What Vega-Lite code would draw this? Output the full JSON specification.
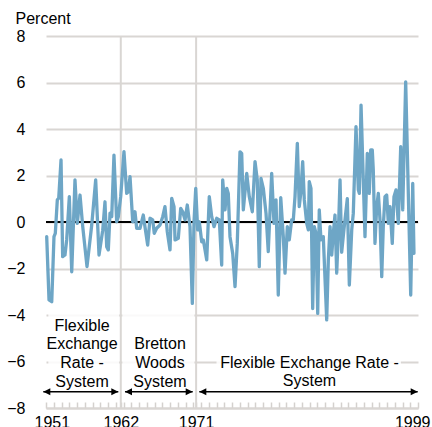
{
  "$schema": "https://vega.github.io/schema/vega-lite/v6.json",
  "width": 372,
  "height": 372,
  "autosize": {"type": "none"},
  "padding": {"left": 46, "top": 36, "right": 14, "bottom": 19},
  "background": "white",
  "config": {"view": {"stroke": null}, "font": "Liberation Sans"},
  "datasets": {
    "series": [
      {"x":1951.09,"y":-0.63},{"x":1951.39,"y":-3.35},{"x":1951.74,"y":-3.43},{"x":1952.03,"y":-0.63},{"x":1952.20,"y":-0.49},{"x":1952.46,"y":0.95},{"x":1952.64,"y":1.02},{"x":1952.94,"y":2.67},{"x":1953.15,"y":-1.49},{"x":1953.45,"y":-1.42},{"x":1953.67,"y":-0.77},{"x":1954.01,"y":1.09},{"x":1954.32,"y":-2.14},{"x":1954.74,"y":1.81},{"x":1955.04,"y":-0.06},{"x":1955.39,"y":1.16},{"x":1955.74,"y":-0.20},{"x":1956.29,"y":-1.92},{"x":1956.90,"y":-0.13},{"x":1957.41,"y":1.81},{"x":1957.84,"y":-1.42},{"x":1958.32,"y":-0.35},{"x":1958.61,"y":0.87},{"x":1958.83,"y":-1.06},{"x":1959.04,"y":-1.20},{"x":1959.26,"y":0.38},{"x":1959.48,"y":0.23},{"x":1959.77,"y":2.88},{"x":1960.12,"y":0.01},{"x":1960.33,"y":0.23},{"x":1960.64,"y":1.09},{"x":1961.06,"y":3.03},{"x":1961.41,"y":1.23},{"x":1961.62,"y":1.30},{"x":1961.84,"y":1.95},{"x":1962.19,"y":0.01},{"x":1962.48,"y":0.44},{"x":1962.70,"y":-0.27},{"x":1963.13,"y":-0.27},{"x":1963.55,"y":0.30},{"x":1963.77,"y":-0.20},{"x":1964.12,"y":-0.99},{"x":1964.42,"y":0.16},{"x":1964.77,"y":0.09},{"x":1964.97,"y":-0.49},{"x":1965.28,"y":-0.27},{"x":1965.71,"y":-0.13},{"x":1966.06,"y":0.23},{"x":1966.35,"y":0.66},{"x":1966.65,"y":-0.42},{"x":1967.00,"y":-1.20},{"x":1967.22,"y":1.02},{"x":1967.52,"y":0.66},{"x":1967.65,"y":-0.77},{"x":1968.07,"y":-0.70},{"x":1968.38,"y":0.59},{"x":1968.64,"y":0.44},{"x":1968.94,"y":0.09},{"x":1969.23,"y":0.73},{"x":1969.58,"y":-0.20},{"x":1969.88,"y":-3.50},{"x":1970.10,"y":0.01},{"x":1970.32,"y":1.45},{"x":1970.57,"y":-0.34},{"x":1970.78,"y":0.01},{"x":1971.09,"y":-0.85},{"x":1971.30,"y":-0.77},{"x":1971.74,"y":-1.63},{"x":1972.07,"y":1.09},{"x":1972.38,"y":0.23},{"x":1972.68,"y":-0.20},{"x":1973.03,"y":0.16},{"x":1973.36,"y":0.09},{"x":1973.67,"y":-1.85},{"x":1973.80,"y":1.81},{"x":1974.10,"y":0.52},{"x":1974.32,"y":1.45},{"x":1974.52,"y":1.23},{"x":1974.74,"y":-0.63},{"x":1975.09,"y":-1.35},{"x":1975.39,"y":-2.78},{"x":1975.68,"y":-0.92},{"x":1976.03,"y":3.02},{"x":1976.25,"y":2.95},{"x":1976.46,"y":0.52},{"x":1976.90,"y":2.09},{"x":1977.23,"y":1.09},{"x":1977.62,"y":0.44},{"x":1977.97,"y":2.60},{"x":1978.26,"y":1.81},{"x":1978.52,"y":-1.92},{"x":1978.74,"y":1.88},{"x":1979.04,"y":1.45},{"x":1979.39,"y":0.37},{"x":1979.68,"y":-1.27},{"x":1980.12,"y":2.09},{"x":1980.42,"y":-0.06},{"x":1980.68,"y":0.95},{"x":1980.97,"y":-3.14},{"x":1981.29,"y":1.05},{"x":1981.62,"y":-0.63},{"x":1981.84,"y":-2.20},{"x":1982.14,"y":-0.20},{"x":1982.39,"y":-0.77},{"x":1982.70,"y":0.09},{"x":1982.91,"y":0.09},{"x":1983.13,"y":1.09},{"x":1983.43,"y":3.38},{"x":1983.68,"y":0.66},{"x":1983.87,"y":1.23},{"x":1984.12,"y":2.60},{"x":1984.33,"y":0.95},{"x":1984.64,"y":-0.06},{"x":1984.85,"y":-0.34},{"x":1984.97,"y":1.74},{"x":1985.19,"y":1.45},{"x":1985.41,"y":-3.72},{"x":1985.62,"y":-0.20},{"x":1985.84,"y":-0.49},{"x":1986.06,"y":-3.93},{"x":1986.26,"y":0.52},{"x":1986.48,"y":-0.77},{"x":1986.78,"y":-0.63},{"x":1987.22,"y":-4.21},{"x":1987.43,"y":-1.63},{"x":1987.65,"y":-0.20},{"x":1987.87,"y":-1.42},{"x":1988.07,"y":-0.49},{"x":1988.29,"y":0.30},{"x":1988.51,"y":-2.20},{"x":1988.72,"y":-0.49},{"x":1988.94,"y":1.81},{"x":1989.15,"y":-1.30},{"x":1989.45,"y":-0.30},{"x":1989.88,"y":1.00},{"x":1990.14,"y":-2.71},{"x":1990.45,"y":-0.34},{"x":1990.65,"y":0.37},{"x":1991.00,"y":4.10},{"x":1991.30,"y":1.38},{"x":1991.43,"y":1.23},{"x":1991.65,"y":5.03},{"x":1991.94,"y":1.81},{"x":1992.16,"y":-0.63},{"x":1992.46,"y":2.95},{"x":1992.72,"y":1.23},{"x":1992.90,"y":3.10},{"x":1993.10,"y":3.10},{"x":1993.23,"y":2.24},{"x":1993.45,"y":-0.92},{"x":1993.67,"y":0.66},{"x":1993.88,"y":1.23},{"x":1994.10,"y":0.08},{"x":1994.32,"y":-2.35},{"x":1994.52,"y":-0.20},{"x":1994.74,"y":1.09},{"x":1994.96,"y":1.16},{"x":1995.17,"y":-0.06},{"x":1995.39,"y":0.66},{"x":1995.68,"y":-0.92},{"x":1995.90,"y":1.09},{"x":1996.16,"y":1.38},{"x":1996.46,"y":-0.06},{"x":1996.77,"y":3.24},{"x":1997.03,"y":0.52},{"x":1997.41,"y":6.03},{"x":1998.06,"y":-3.14},{"x":1998.32,"y":1.66},{"x":1998.48,"y":-1.35}
    ],
    "boxes": [
      {"x": 1951.3, "x2": 1960.45, "y": -3.85, "y2": -7.05},
      {"x": 1960.85, "x2": 1970.15, "y": -3.85, "y2": -7.05},
      {"x": 1973.0, "x2": 1996.8, "y": -5.45, "y2": -7.05}
    ],
    "eras": [{"x": 1960.65, "y": 8, "y2": -8}, {"x": 1970.37, "y": 8, "y2": -8}],
    "zero": [{"x": 1951, "x2": 1999, "y": 0}],
    "notes": [
      {"x": 1955.65, "y": -4.69, "label": "Flexible"},
      {"x": 1955.65, "y": -5.48, "label": "Exchange"},
      {"x": 1955.65, "y": -6.29, "label": "Rate -"},
      {"x": 1955.65, "y": -7.08, "label": "System"},
      {"x": 1965.71, "y": -5.48, "label": "Bretton"},
      {"x": 1965.71, "y": -6.29, "label": "Woods"},
      {"x": 1965.71, "y": -7.08, "label": "System"},
      {"x": 1985.0, "y": -6.29, "label": "Flexible Exchange Rate -"},
      {"x": 1985.0, "y": -7.05, "label": "System"}
    ],
    "arrows": [
      {"x": 1950.65, "x2": 1960.33, "y": -7.3},
      {"x": 1961.19, "x2": 1969.93, "y": -7.3},
      {"x": 1970.78, "x2": 1998.96, "y": -7.3}
    ],
    "heads": [
      {"x": 1950.65, "y": -7.3, "dir": "left"},
      {"x": 1960.33, "y": -7.3, "dir": "right"},
      {"x": 1961.19, "y": -7.3, "dir": "left"},
      {"x": 1969.93, "y": -7.3, "dir": "right"},
      {"x": 1970.78, "y": -7.3, "dir": "left"},
      {"x": 1998.96, "y": -7.3, "dir": "right"}
    ]
  },
  "encoding": {
    "x": {
      "field": "x", "type": "quantitative",
      "scale": {"domain": [1951, 1999], "nice": false, "zero": false},
      "axis": {
        "title": null,
        "grid": false,
        "values": [1951,1952,1953,1954,1955,1956,1957,1958,1959,1960,1960.65,1961,1962,1963,1964,1965,1966,1967,1968,1969,1970,1970.37,1971,1972,1973,1974,1975,1976,1977,1978,1979,1980,1981,1982,1983,1984,1985,1986,1987,1988,1989,1990,1991,1992,1993,1994,1995,1996,1997,1998,1999],
        "labelExpr": "datum.value == 1951 ? '1951' : abs(datum.value - 1960.65) < 0.01 ? '1962' : abs(datum.value - 1970.37) < 0.01 ? '1971' : datum.value == 1999 ? '1999' : ''",
        "labelOverlap": false,
        "labelBound": false,
        "labelFlush": true,
        "labelFlushOffset": 12,
        "labelFontSize": 16,
        "labelColor": "black",
        "labelFont": "Liberation Sans",
        "labelPadding": 12.5,
        "domain": true,
        "domainColor": "#d9d6d3",
        "domainWidth": 2,
        "ticks": true,
        "tickSize": -6,
        "tickColor": "#d4d1ce",
        "tickWidth": 1.5
      }
    },
    "y": {
      "field": "y", "type": "quantitative",
      "scale": {"domain": [-8, 8], "nice": false, "zero": false},
      "axis": {
        "title": "Percent",
        "titleAngle": 0,
        "titleAlign": "left",
        "titleBaseline": "alphabetic",
        "titleX": -31,
        "titleY": -12.5,
        "titleFontSize": 16,
        "titleFontWeight": "normal",
        "titleColor": "black",
        "titleFont": "Liberation Sans",
        "values": [-8, -6, -4, -2, 0, 2, 4, 6, 8],
        "grid": true,
        "gridColor": "#d9d6d3",
        "gridWidth": 2,
        "domain": false,
        "ticks": false,
        "labelFontSize": 16,
        "labelColor": "black",
        "labelFont": "Liberation Sans",
        "labelPadding": 21
      }
    }
  },
  "layer": [
    {
      "data": {"name": "boxes"},
      "mark": {"type": "rect", "color": "white", "opacity": 0.85},
      "encoding": {"x2": {"field": "x2"}, "y2": {"field": "y2"}}
    },
    {
      "data": {"name": "eras"},
      "mark": {"type": "rule", "color": "#d9d6d3", "strokeWidth": 2},
      "encoding": {"y2": {"field": "y2"}}
    },
    {
      "data": {"name": "zero"},
      "mark": {"type": "rule", "color": "black", "strokeWidth": 1.8},
      "encoding": {"x2": {"field": "x2"}}
    },
    {
      "data": {"name": "series"},
      "mark": {"type": "line", "color": "#6ea6c6", "strokeWidth": 3.3, "strokeJoin": "round", "strokeCap": "round"},
      "encoding": {}
    },
    {
      "data": {"name": "notes"},
      "mark": {"type": "text", "fontSize": 16, "font": "Liberation Sans", "color": "black", "align": "center", "baseline": "alphabetic"},
      "encoding": {"text": {"field": "label"}}
    },
    {
      "data": {"name": "arrows"},
      "mark": {"type": "rule", "color": "black", "strokeWidth": 1.3},
      "encoding": {"x2": {"field": "x2"}}
    },
    {
      "data": {"name": "heads"},
      "mark": {"type": "point", "filled": true, "opacity": 1, "size": 64, "color": "black"},
      "encoding": {
        "shape": {"field": "dir", "type": "nominal", "legend": null,
          "scale": {"domain": ["left", "right"], "range": ["M0,0L1.75,-0.85L1.75,0.85Z", "M0,0L-1.75,-0.85L-1.75,0.85Z"]}}
      }
    }
  ]
}
